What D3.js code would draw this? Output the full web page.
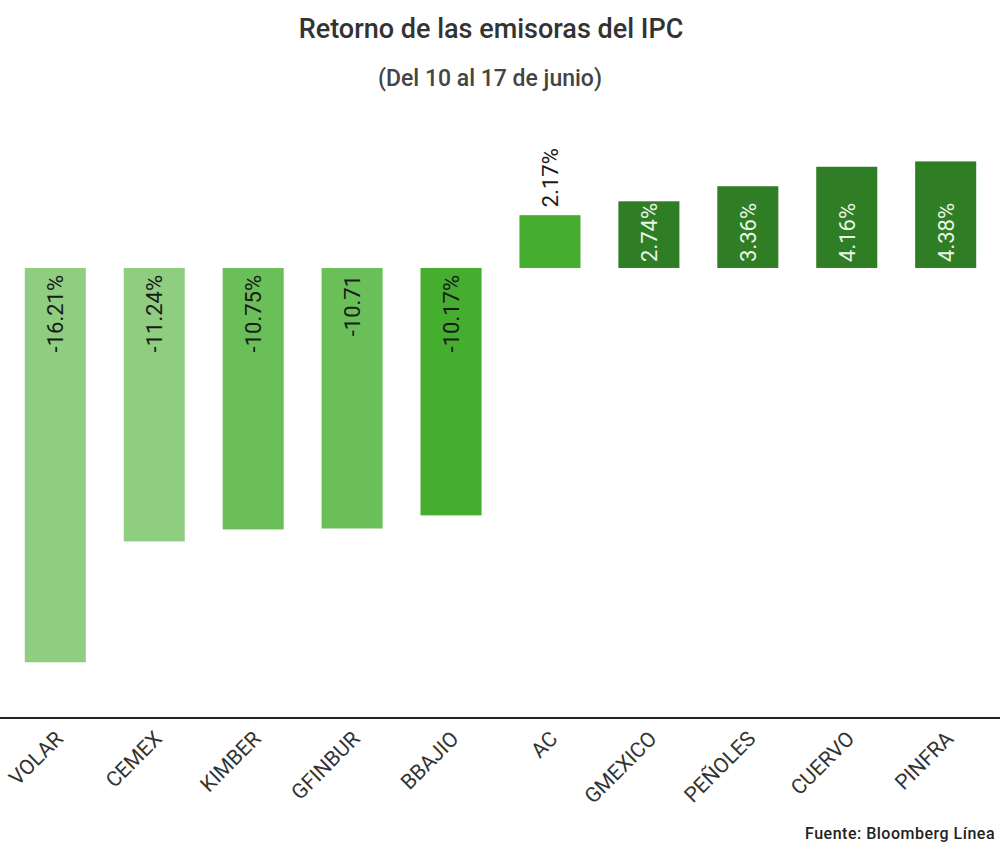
<!DOCTYPE html>
<html>
<head>
<meta charset="utf-8">
<script src="https://cdn.jsdelivr.net/npm/d3@7"></script>
<style>
  body { margin: 0; background: #fff; font-family: Roboto, "Noto Sans", sans-serif; }
</style>
</head>
<body>
<script>
// chart data
const emisoras = ["VOLAR", "CEMEX", "KIMBER", "GFINBUR", "BBAJIO", "AC", "GMEXICO", "PEÑOLES", "CUERVO", "PINFRA"];
const retornos = [-16.21, -11.24, -10.75, -10.71, -10.17, 2.17, 2.74, 3.36, 4.16, 4.38];
const etiquetas = ["-16.21%", "-11.24%", "-10.75%", "-10.71", "-10.17%", "2.17%", "2.74%", "3.36%", "4.16%", "4.38%"];
const colores = ["#8fcd80", "#8fcd80", "#6abf59", "#6abf59", "#45ae2e", "#45ae2e", "#2f7d24", "#2f7d24", "#2f7d24", "#2f7d24"];

const w = 1000;
const h = 850;

const svg = d3.select("body")
  .append("svg")
  .attr("width", w)
  .attr("height", h);

// title
svg.append("text")
  .attr("x", 491).attr("y", 38)
  .attr("text-anchor", "middle")
  .style("font-size", "27px")
  .style("font-weight", 500)
  .style("fill", "#333")
  .text("Retorno de las emisoras del IPC");

svg.append("text")
  .attr("x", 490).attr("y", 86)
  .attr("text-anchor", "middle")
  .style("font-size", "23px")
  .style("font-weight", 500)
  .style("fill", "#444")
  .text("(Del 10 al 17 de junio)");

const xScale = d3.scaleBand()
  .domain(emisoras)
  .range([6, 995])
  .paddingInner(0.383)
  .paddingOuter(0.19);

const yScale = d3.scaleLinear()
  .domain([-18.5, 6])
  .range([718, 122]);

const data = emisoras.map((e, i) => ({ e: e, v: retornos[i], lab: etiquetas[i], c: colores[i] }));

svg.selectAll("rect.bar")
  .data(data)
  .enter()
  .append("rect")
  .attr("class", "bar")
  .attr("x", d => xScale(d.e))
  .attr("y", d => yScale(Math.max(0, d.v)))
  .attr("width", xScale.bandwidth())
  .attr("height", d => Math.abs(yScale(d.v) - yScale(0)))
  .style("fill", d => d.c);

// value labels, rotated
svg.selectAll("text.val")
  .data(data)
  .enter()
  .append("text")
  .attr("class", "val")
  .attr("transform", function(d) {
    const cx = xScale(d.e) + xScale.bandwidth() / 2 + 8;
    let y;
    if (d.v < 0) y = yScale(0) + 7;
    else if (d.e == "AC") y = yScale(d.v) - 8;
    else y = yScale(0) - 6;
    return "translate(" + cx + "," + y + ") rotate(-90)";
  })
  .attr("text-anchor", d => d.v < 0 ? "end" : "start")
  .style("font-size", "22px")
  .style("fill", d => (d.v > 0 && d.e != "AC") ? "#eaf6e4" : "#1a1a1a")
  .text(d => d.lab);

// x axis
const xAxis = d3.axisBottom(xScale).tickSize(0).tickPadding(0);
const gx = svg.append("g")
  .attr("id", "x-axis")
  .attr("transform", "translate(0,718)")
  .call(xAxis);
gx.select(".domain").remove();
gx.append("line")
  .attr("x1", 0).attr("x2", w)
  .attr("y1", 0).attr("y2", 0)
  .style("stroke", "#222")
  .style("stroke-width", 2);
gx.selectAll(".tick text")
  .attr("transform", "translate(9,22) rotate(-45)")
  .attr("dy", 0)
  .attr("text-anchor", "end")
  .style("font-family", "Roboto, sans-serif")
  .style("font-size", "21px")
  .style("fill", "#333");

// source
svg.append("text")
  .attr("x", 995).attr("y", 839)
  .attr("text-anchor", "end")
  .style("font-family", "Roboto, sans-serif")
  .style("font-size", "16px")
  .style("letter-spacing", "0.5px")
  .style("font-weight", 500)
  .style("fill", "#222")
  .text("Fuente: Bloomberg Línea");
</script>
</body>
</html>
